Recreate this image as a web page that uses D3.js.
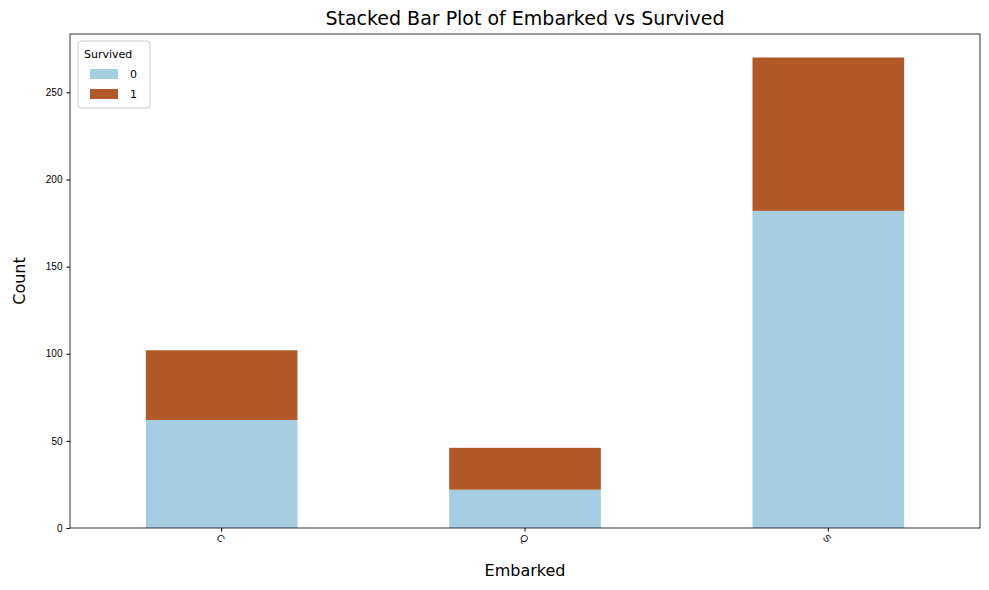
<!DOCTYPE html>
<html>
<head>
<meta charset="utf-8">
<script src="https://cdn.jsdelivr.net/npm/d3@7"></script>
<style>
body { margin: 0; background: #fff; font-family: "DejaVu Sans", sans-serif; }
</style>
</head>
<body>
<div id="chart"></div>
<script>
var categories = ["C", "Q", "S"];
var survived0 = [62, 22, 182];
var survived1 = [40, 24, 88];
var seriesNames = ["0", "1"];
var colors = ["#a6cee3", "#b15928"];
var yTicks = [0, 50, 100, 150, 200, 250];

var W = 989, H = 590;
var margin = {top: 34, right: 9, bottom: 62, left: 70};
var width = W - margin.left - margin.right;
var height = H - margin.top - margin.bottom;

var rows = categories.map(function(c, i) { return {cat: c, s0: survived0[i], s1: survived1[i]}; });
var stack = d3.stack().keys(["s0", "s1"])(rows);

var x = d3.scaleBand().domain(categories).range([0, width]).paddingInner(0.5).paddingOuter(0.25);
var y = d3.scaleLinear().domain([0, 283.5]).range([height, 0]);

var svg = d3.select("#chart").append("svg").attr("width", W).attr("height", H);
var g = svg.append("g").attr("transform", "translate(" + margin.left + "," + margin.top + ")");

g.selectAll("g.layer").data(stack).enter().append("g")
	.attr("fill", function(d, i) { return colors[i]; })
	.selectAll("rect").data(function(d) { return d; }).enter().append("rect")
	.attr("x", function(d) { return x(d.data.cat); })
	.attr("width", x.bandwidth())
	.attr("y", function(d) { return y(d[1]); })
	.attr("height", function(d) { return y(d[0]) - y(d[1]); });

var xa = g.append("g").attr("transform", "translate(0," + height + ")")
	.call(d3.axisBottom(x).tickSizeOuter(0).tickSize(3.5).tickPadding(5));
xa.selectAll("text").attr("font-size", 10).attr("fill", "#000")
	.attr("transform", "rotate(45)").attr("dy", "0.3em").attr("dx", "0.3em").style("text-anchor", "start");

var ya = g.append("g").call(d3.axisLeft(y).tickValues(yTicks).tickSizeOuter(0).tickSize(3.5).tickPadding(4));
ya.selectAll("text").attr("font-size", 10).attr("fill", "#000");
svg.selectAll(".domain").remove();

g.append("rect").attr("width", width).attr("height", height)
	.attr("fill", "none").attr("stroke", "#000").attr("stroke-width", 0.8);

svg.append("text").attr("x", margin.left + width / 2).attr("y", 25).attr("text-anchor", "middle")
	.attr("font-size", 19).text("Stacked Bar Plot of Embarked vs Survived");
svg.append("text").attr("x", margin.left + width / 2).attr("y", 576).attr("text-anchor", "middle")
	.attr("font-size", 16).text("Embarked");
svg.append("text").attr("transform", "translate(25," + (margin.top + height / 2) + ") rotate(-90)")
	.attr("text-anchor", "middle").attr("font-size", 16).text("Count");

var leg = svg.append("g").attr("transform", "translate(78,41)");
leg.append("rect").attr("width", 72).attr("height", 67).attr("rx", 3)
	.attr("fill", "#fff").attr("stroke", "#ccc");
leg.append("text").attr("x", 6).attr("y", 17).attr("font-size", 11).text("Survived");
seriesNames.forEach(function(n, i) {
	leg.append("rect").attr("x", 12).attr("y", 28 + i * 20).attr("width", 28).attr("height", 10).attr("fill", colors[i]);
	leg.append("text").attr("x", 52).attr("y", 37 + i * 20).attr("font-size", 11).text(n);
});
</script>
</body>
</html>
